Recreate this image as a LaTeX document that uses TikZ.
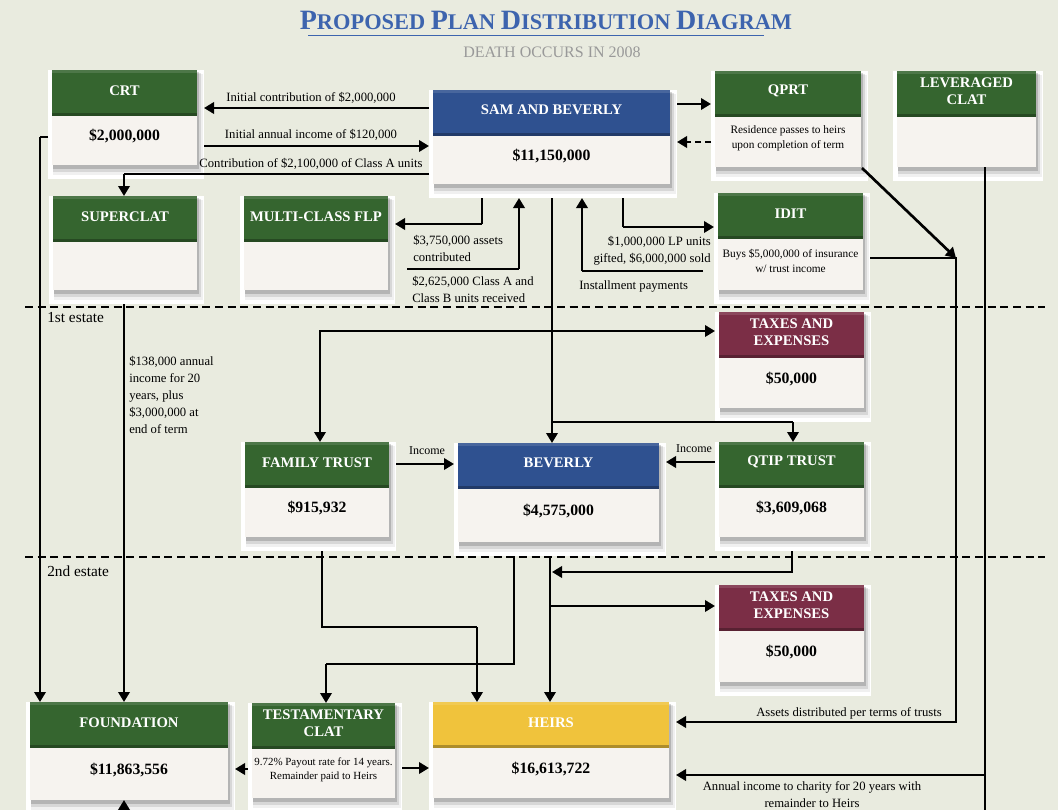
\documentclass[tikz,border=0pt]{standalone}
\usepackage{fontspec}
\setmainfont{Liberation Serif}
\usetikzlibrary{arrows.meta,fit}
\definecolor{bg}{HTML}{E9EBDF}
\definecolor{gr}{HTML}{35652F}
\definecolor{bl}{HTML}{2F5190}
\definecolor{mr}{HTML}{7B2E46}
\definecolor{yl}{HTML}{F0C33C}
\definecolor{bd}{HTML}{F6F3EF}
\definecolor{ttl}{HTML}{3D64AE}
\tikzset{
  hdr/.style={text=white, font=\fontsize{11}{12.75}\selectfont\bfseries, align=center, inner sep=0},
  val/.style={font=\fontsize{11.8}{14}\selectfont\bfseries},
  desc/.style={font=\fontsize{8.5}{11.25}\selectfont},
  descs/.style={font=\fontsize{8.2}{10.6}\selectfont},
  lbl/.style={font=\fontsize{9.5}{12.75}\selectfont, inner sep=0},
  thk/.style={line width=2pt},
  thn/.style={line width=0.8pt},
  arr/.style={-{Triangle[length=7.5pt,width=8.5pt]}},
  arrb/.style={{Triangle[length=7.5pt,width=8.5pt]}-{Triangle[length=7.5pt,width=8.5pt]}},
  frm/.style={fill=white, inner sep=0, outer sep=0, draw=none},
  sep/.style={line width=1.5pt, dash pattern=on 6pt off 3.5pt},
}
% #1 name, #2 x1, #3 y1, #4 x2, #5 y2, #6 body style, #7 colour, #8 header, #9 body
\newcommand\dbox[9]{%
  \node[frm, fit={(#2-4,#3) (#4+7,#5+14)}] (#1) {};
  \fill[black, opacity=0.06] (#2+1,#3+4) rectangle (#4+6,#5+10);
  \fill[black, opacity=0.10] (#2+1,#3+3) rectangle (#4+4,#5+7);
  \fill[black, opacity=0.16] (#2+1,#3+2) rectangle (#4+2,#5+4);
  \fill[#7] (#2,#3) rectangle (#4,#3+46);
  \fill[white, opacity=0.12] (#2,#3) rectangle (#4,#3+3);
  \fill[#7!72!black] (#2,#3+43) rectangle (#4,#3+46);
  \fill[bd] (#2,#3+46) rectangle (#4,#5);
  \node[hdr] (#1-h) at ({(#2+#4)/2},{#3+46*0.44}) {#8};
  \node[#6, align=center, inner sep=0] (#1-b) at ({(#2+#4)/2},{(#3+46+#5)/2-4}) {#9};
}
\newcommand\bigc[1]{{\fontsize{21}{24}\selectfont #1}}
\begin{document}
\begin{tikzpicture}[x=0.75pt,y=-0.75pt]
\path[use as bounding box, fill=bg] (0,0) rectangle (1058,810);

% title
\node[text=ttl, font=\fontsize{16.8}{20}\selectfont\bfseries, inner sep=0] (title) at (546,20)
  {\bigc{P}ROPOSED \bigc{P}LAN \bigc{D}ISTRIBUTION \bigc{D}IAGRAM};
\draw[ttl, line width=0.9pt] (308,35.5) -- (764,35.5);
\node[text=black!40, font=\fontsize{12}{14}\selectfont, inner sep=0] (sub) at (552,52) {DEATH OCCURS IN 2008};

% boxes
\dbox{crt}{52}{70}{197}{165}{val}{gr}{CRT}{\$2,000,000}
\dbox{sam}{433}{90}{670}{184}{val}{bl}{SAM AND BEVERLY}{\$11,150,000}
\dbox{qprt}{715}{71}{861}{167}{desc}{gr}{QPRT}{Residence passes to heirs\\upon completion of term}
\dbox{lclat}{897}{71}{1036}{167}{desc}{gr}{LEVERAGED\\CLAT}{}
\dbox{superclat}{53}{196}{197}{290}{desc}{gr}{SUPERCLAT}{}
\dbox{flp}{244}{196}{388}{290}{desc}{gr}{MULTI-CLASS FLP}{}
\dbox{idit}{718}{193}{863}{290}{desc}{gr}{IDIT}{Buys \$5,000,000 of insurance\\w/ trust income}
\dbox{taxa}{719}{312}{864}{408}{val}{mr}{TAXES AND\\EXPENSES}{\$50,000}
\dbox{fam}{245}{442}{389}{537}{val}{gr}{FAMILY TRUST}{\$915,932}
\dbox{bev}{458}{443}{659}{542}{val}{bl}{BEVERLY}{\$4,575,000}
\dbox{qtip}{719}{442}{864}{537}{val}{gr}{QTIP TRUST}{\$3,609,068}
\dbox{taxb}{719}{585}{864}{682}{val}{mr}{TAXES AND\\EXPENSES}{\$50,000}
\dbox{found}{30}{702}{228}{800}{val}{gr}{FOUNDATION}{\$11,863,556}
\dbox{tclat}{252}{703}{395}{798}{descs}{gr}{TESTAMENTARY\\CLAT}{9.72\% Payout rate for 14 years.\\Remainder paid to Heirs}
\dbox{heirs}{433}{702}{669}{798}{val}{yl}{HEIRS}{\$16,613,722}

% estate separators
\draw[sep] (25,307) -- (1045,307);
\draw[sep] (25,557) -- (1045,557);
\node[font=\fontsize{11.5}{13}\selectfont, anchor=west, inner sep=0] (e1) at (47,318) {1st estate};
\node[font=\fontsize{11.5}{13}\selectfont, anchor=west, inner sep=0] (e2) at (47,571) {2nd estate};

% SAM <-> CRT
\draw[thk,arr] (sam.west |- 0,108) -- (crt.east |- 0,108);
\node[lbl] (l1) at (311,98) {Initial contribution of \$2,000,000};
\draw[thk,arr] (crt.east |- 0,146) -- (sam.west |- 0,146);
\node[lbl] (l2) at (311,135) {Initial annual income of \$120,000};
\coordinate (c3) at (124,174);
\draw[thn] (sam.west |- c3) -- (c3);
\draw[thk,arr] (c3) -- (c3 |- superclat.north);
\node[lbl] (l3) at (311,164) {Contribution of \$2,100,000 of Class A units};

% SAM <-> QPRT
\draw[thk,arr] (sam.east |- 0,104) -- (qprt.west |- 0,104);
\draw[thk,arr,dash pattern=on 4.5pt off 3pt] (qprt.west |- 0,142) -- (sam.east |- 0,142);

% SAM -> FLP and back
\coordinate (c6) at (482,224);
\draw[thn] (sam.south -| c6) -- (c6);
\draw[thk,arr] (c6) -- (c6 -| flp.east);
\node[lbl, anchor=west, align=left] (l6) at (413,248) {\$3,750,000 assets\\contributed};
\coordinate (c7a) at (407,269);
\coordinate (c7b) at (519,269);
\draw[thn] (c7a) -- (c7b);
\draw[thk,arr] (c7b) -- (c7b |- sam.south);
\node[lbl, anchor=west, align=left] (l7) at (412,289) {\$2,625,000 Class A and\\Class B units received};

% SAM -> IDIT and installments
\coordinate (c11) at (623,227);
\draw[thn] (sam.south -| c11) -- (c11);
\draw[thk,arr] (c11) -- (c11 -| idit.west);
\node[lbl, anchor=east, align=right] (l11) at (711,251) {\$1,000,000 LP units\\gifted, \$6,000,000 sold};
\coordinate (c10a) at (703,271);
\coordinate (c10b) at (582,271);
\draw[thn] (c10a) -- (c10b);
\draw[thk,arr] (c10b) -- (c10b |- sam.south);
\node[lbl, anchor=west] (l10) at (579,286) {Installment payments};

% SAM main trunk
\draw[thk,arr] (sam.south -| 552,0) -- (bev.north -| 552,0);
\coordinate (c8) at (552,422);
\coordinate (c8b) at (793,422);
\draw[thn] (c8) -- (c8b);
\draw[thk,arr] (c8b) -- (c8b |- qtip.north);
\coordinate (c9) at (320,331);
\draw[thk,arrb] (c9 |- fam.north) -- (c9) -- (c9 -| taxa.west);

% incomes to Beverly
\draw[thk,arr] (fam.east |- 0,464) -- (bev.west |- 0,464);
\node[lbl, font=\fontsize{9}{11}\selectfont] (l16) at (427,451) {Income};
\draw[thk,arr] (qtip.west |- 0,462) -- (bev.east |- 0,462);
\node[lbl, font=\fontsize{9}{11}\selectfont] (l17) at (694,449) {Income};

% QPRT / IDIT -> Heirs
\coordinate (c12) at (956,258);
\coordinate (c13) at (956,722);
\draw[thk,arr] (qprt.south east) ++(-6,-13) -- (c12);
\draw[thk,arr] (idit.east |- c12) -- (c12) -- (c13) -- (c13 -| heirs.east);
\node[lbl, anchor=east] (l13) at (942,713) {Assets distributed per terms of trusts};

% Leveraged CLAT -> Heirs
\coordinate (c14) at (985,775);
\coordinate (c14s) at (985,167);
\coordinate (c14e) at (985,815);
\draw[thn] (c14s) -- (c14e);
\draw[thk,arr] (c14) -- (c14 -| heirs.east);
\node[lbl, align=center] (l14) at (812,795) {Annual income to charity for 20 years with\\remainder to Heirs};

% CRT / SUPERCLAT -> Foundation
\coordinate (c15) at (40,137);
\draw[thn] (crt.west |- c15) -- (c15);
\draw[thk,arr] (c15) -- (c15 |- found.north);
\draw[thk,arr] (superclat.south -| 124,0) -- (found.north -| 124,0);
\node[lbl, anchor=west, align=left] (l15) at (129,395) {\$138,000 annual\\income for 20\\years, plus\\\$3,000,000 at\\end of term};

% second estate
\coordinate (c16a) at (322,627);
\coordinate (c16b) at (477,627);
\draw[thn] (fam.south -| c16a) -- (c16a) -- (c16b);
\draw[thk,arr] (c16b) -- (c16b |- heirs.north);
\coordinate (c17a) at (514,664);
\coordinate (c17b) at (326,664);
\draw[thn] (bev.south -| c17a) -- (c17a) -- (c17b);
\draw[thk,arr] (c17b) -- (c17b |- tclat.north);
\draw[thk,arr] (bev.south -| 550,0) -- (heirs.north -| 550,0);
\coordinate (c18) at (792,572);
\coordinate (c18b) at (552,572);
\draw[thk,arr] (qtip.south -| c18) -- (c18) -- (c18b);
\coordinate (c19) at (550,606);
\draw[thk,arr] (c19) -- (c19 -| taxb.west);

% Testamentary CLAT
\draw[thk,arr] (tclat.west |- 0,769) -- (found.east |- 0,769);
\draw[thk,arr] (tclat.east |- 0,768) -- (heirs.west |- 0,768);

% foundation bottom
\coordinate (c20) at (124,800);
\coordinate (c20s) at (124,815);
\draw[thk,arr] (c20s) -- (c20);
\end{tikzpicture}
\end{document}
